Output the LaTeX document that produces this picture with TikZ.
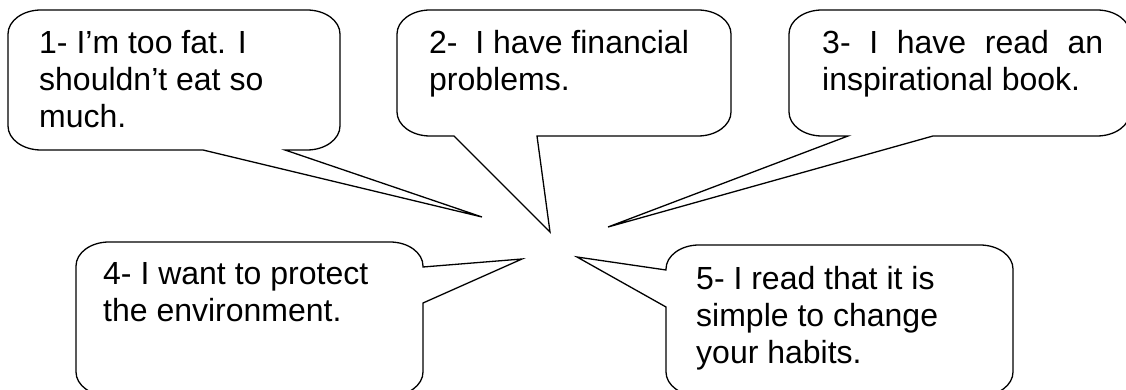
\documentclass[tikz,border=0pt]{standalone}
\usepackage{fontspec}
\setmainfont{Liberation Sans}
\begin{document}
\begin{tikzpicture}[x=1pt,y=1pt,
  callout/.style={draw=black,line width=1.3pt,fill=white},
  txt/.style={anchor=base west,inner sep=0pt,align=left,font=\fontsize{32}{37}\selectfont},
  ca/.style={x radius=33,y radius=24}]
\useasboundingbox (0,0) rectangle (1126,390);
\clip (0,0) rectangle (1126,390);
% callout 1
\draw[callout] (41,380) -- (307,380) arc[start angle=90,end angle=0,ca] -- (340,264)
  arc[start angle=0,end angle=-90,ca] -- (285,240) -- (482,173) -- (203,240) -- (41,240)
  arc[start angle=270,end angle=180,ca] -- (8,356) arc[start angle=180,end angle=90,ca] -- cycle;
% callout 2
\draw[callout] (430,380) -- (698,380) arc[start angle=90,end angle=0,ca] -- (731,278)
  arc[start angle=0,end angle=-90,ca] -- (537,254) -- (550,158) -- (454,254) -- (430,254)
  arc[start angle=270,end angle=180,ca] -- (397,356) arc[start angle=180,end angle=90,ca] -- cycle;
% callout 3
\draw[callout] (822,380) -- (1097,380) arc[start angle=90,end angle=0,ca] -- (1130,278)
  arc[start angle=0,end angle=-90,ca] -- (933,254) -- (608,163) -- (848,254) -- (822,254)
  arc[start angle=270,end angle=180,ca] -- (789,356) arc[start angle=180,end angle=90,ca] -- cycle;
% callout 4
\draw[callout] (109,148) -- (390,148) arc[start angle=90,end angle=0,ca] -- (423,123)
  -- (522,131) -- (423,87) -- (423,18)
  arc[start angle=0,end angle=-90,ca] -- (109,-6)
  arc[start angle=270,end angle=180,ca] -- (76,124) arc[start angle=180,end angle=90,ca] -- cycle;
% callout 5
\draw[callout] (699,145) -- (980,145) arc[start angle=90,end angle=0,ca] -- (1013,18)
  arc[start angle=0,end angle=-90,ca] -- (699,-6)
  arc[start angle=270,end angle=180,ca] -- (666,83) -- (577,133) -- (666,120) -- (666,121)
  arc[start angle=180,end angle=90,ca] -- cycle;
% texts (anchor = baseline of last line)
\node[txt] (t1) at (39,262) {1- I’m too fat. I\\shouldn’t eat so\\much.};
\node[txt] (t2) at (429,299) {2-\ \ I have financial\\problems.};
\node[txt] (t3) at (822,299) {\hbox to 281pt{3-\hfill I\hfill have\hfill read\hfill an}\\inspirational book.};
\node[txt] (t4) at (103,68) {4- I want to protect\\the environment.};
\node[txt] (t5) at (696,26) {5- I read that it is\\simple to change\\your habits.};
\end{tikzpicture}
\end{document}
